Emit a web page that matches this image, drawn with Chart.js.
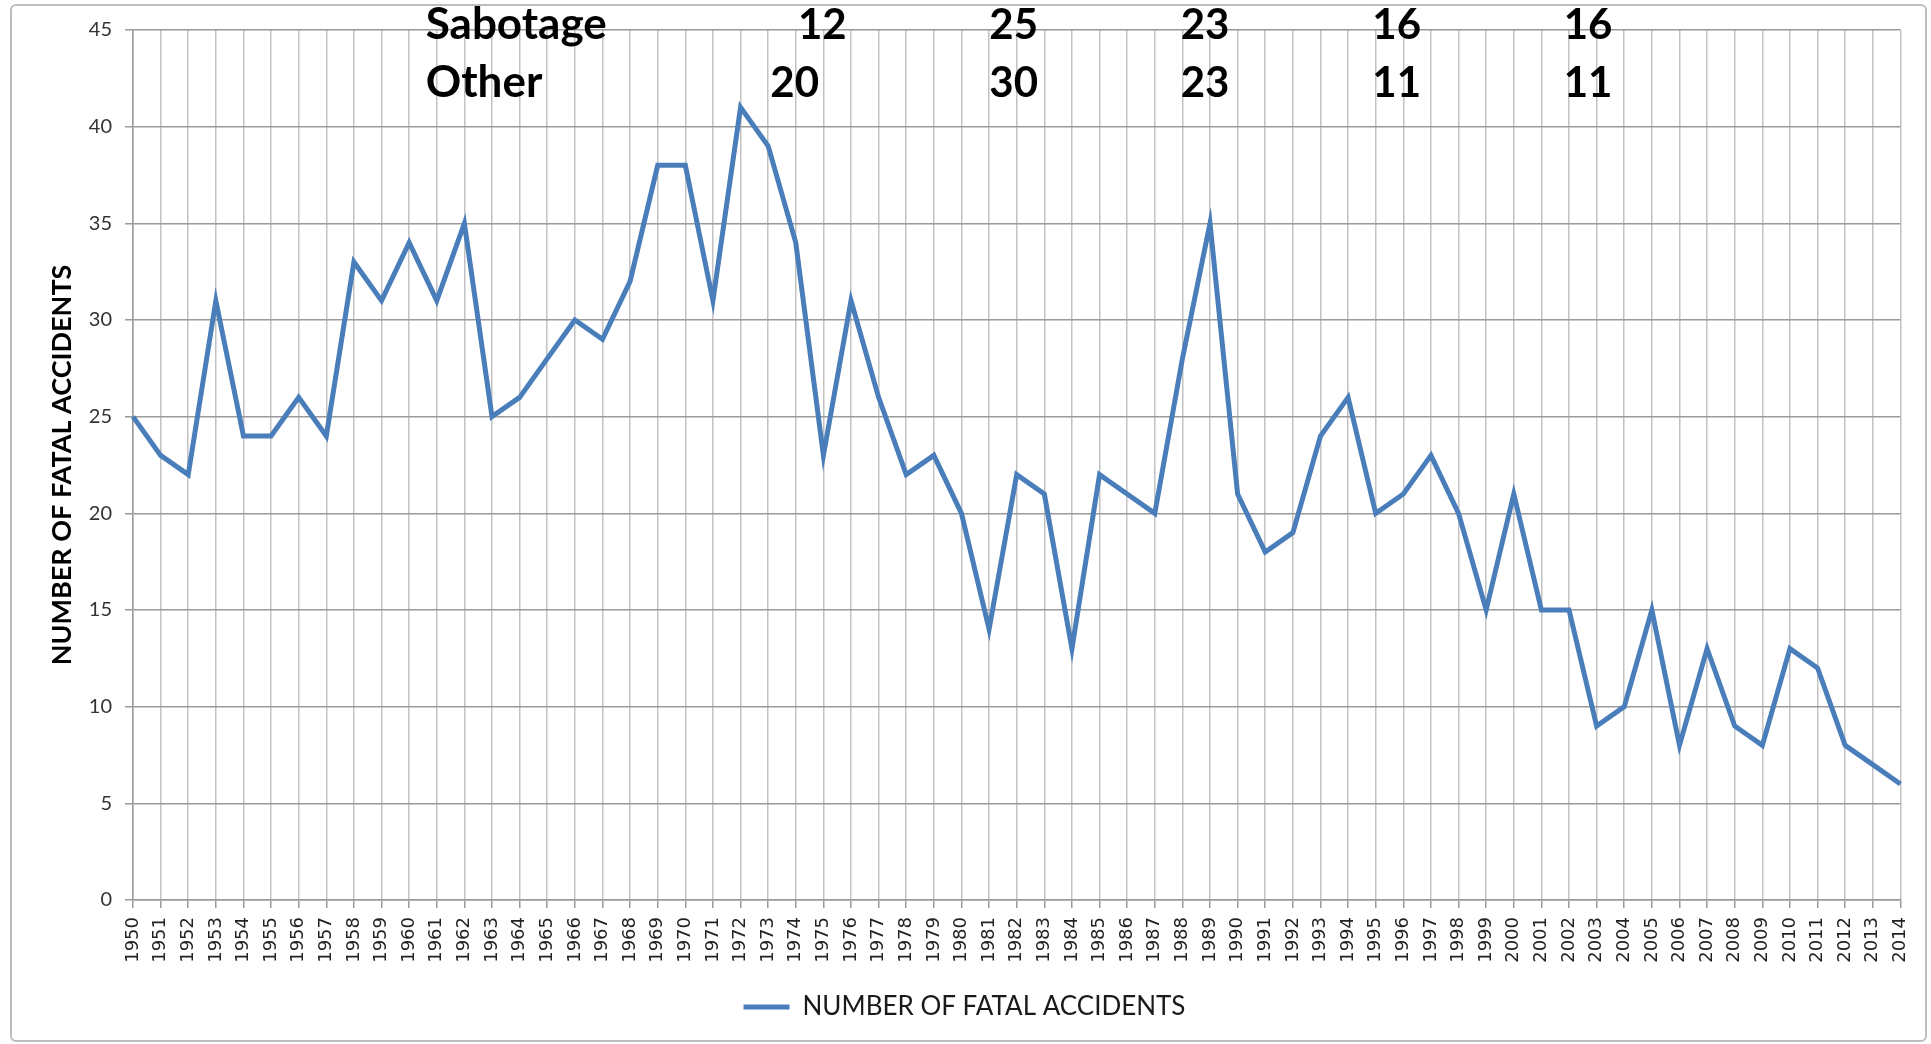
<!DOCTYPE html>
<html lang="en">
<head>
    <meta charset="UTF-8">
    <title>Number of fatal accidents</title>
    <script src="https://cdn.jsdelivr.net/npm/chart.js"></script>
</head>
<style>
    html, body {
        margin: 0;
        padding: 0;
        background: white;
    }
    .frame {
        position: absolute;
        left: 10px;
        top: 4px;
        width: 1913px;
        height: 1034px;
        border: 2px solid #bdbdbd;
        border-radius: 6px;
    }
    .chart-box {
        position: absolute;
        left: 0;
        top: 0;
        width: 1931px;
        height: 1044px;
    }
</style>
<body>
    <div class="frame"></div>
    <div class="chart-box">
        <canvas id="lineChart" width="1931" height="1044"></canvas>
    </div>
    <script>
        // years on the x axis
        const years = [];
        for (let y = 1950; y <= 2014; y++) years.push(String(y));

        // fatal accidents per year
        const fatalAccidents = [
            25, 23, 22, 31, 24, 24, 26, 24, 33, 31,
            34, 31, 35, 25, 26, 28, 30, 29, 32, 38,
            38, 31, 41, 39, 34, 23, 31, 26, 22, 23,
            20, 14, 22, 21, 13, 22, 21, 20, 28, 35,
            21, 18, 19, 24, 26, 20, 21, 23, 20, 15,
            21, 15, 15, 9, 10, 15, 8, 13, 9, 8,
            13, 12, 8, 7, 6
        ];

        // the two rows of numbers written over the top of the chart
        const rowNames = ["Sabotage", "Other"];
        const sabotageCounts = [12, 25, 23, 16, 16];
        const otherCounts = [20, 30, 23, 11, 11];

        const yTicks = { min: 0, max: 45, step: 5 };

        // where the annotation text sits (category index, can be fractional)
        const rowNameSlot = 10.6;
        const sabotageSlots = [24.96, 31.89, 38.82, 45.76, 52.69];
        const otherSlots = [23.96, 31.89, 38.82, 45.76, 52.69];
        const rowBaselines = [39, 97];

        const annotationPlugin = {
            id: "topNotes",
            afterDraw(chart) {
                const ctx = chart.ctx;
                const xs = chart.scales.x;
                const step = (xs.right - xs.left) / (years.length - 1);
                const px = i => xs.left + i * step;
                ctx.save();
                ctx.fillStyle = "#000";
                ctx.textBaseline = "alphabetic";
                ctx.textAlign = "left";
                ctx.font = "bold 44px Lato";
                rowNames.forEach((name, r) => ctx.fillText(name, px(rowNameSlot), rowBaselines[r]));
                ctx.textAlign = "center";
                ctx.font = "bold 42px Lato";
                sabotageCounts.forEach((v, i) => ctx.fillText(String(v), px(sabotageSlots[i]), rowBaselines[0]));
                otherCounts.forEach((v, i) => ctx.fillText(String(v), px(otherSlots[i]), rowBaselines[1]));
                ctx.restore();
            }
        };

        const ctx = document.getElementById("lineChart").getContext("2d");
        new Chart(ctx, {
            type: "line",
            data: {
                labels: years,
                datasets: [{
                    label: "NUMBER OF FATAL ACCIDENTS",
                    data: fatalAccidents,
                    borderColor: "#4a7ebb",
                    backgroundColor: "#4a7ebb",
                    borderWidth: 5,
                    tension: 0,
                    pointRadius: 0,
                    pointHoverRadius: 0,
                    fill: false
                }]
            },
            options: {
                responsive: false,
                animation: false,
                layout: {
                    // left padding nudges the centred legend to the right
                    padding: { left: 24, right: 26, top: 30, bottom: 14 }
                },
                plugins: {
                    tooltip: { enabled: false },
                    legend: {
                        position: "bottom",
                        labels: {
                            usePointStyle: true,
                            pointStyle: "line",
                            pointStyleWidth: 46,
                            boxHeight: 26,
                            padding: 10,
                            color: "#1a1a1a",
                            font: { family: "Lato", size: 26 }
                        }
                    }
                },
                scales: {
                    x: {
                        offset: false,
                        afterFit: s => { s.height = 84; },
                        grid: {
                            color: "#c2c2c2",
                            lineWidth: 1.5,
                            tickLength: 8,
                            tickColor: "#9a9a9a"
                        },
                        border: { color: "#9a9a9a", width: 1.5 },
                        ticks: {
                            autoSkip: false,
                            minRotation: 90,
                            maxRotation: 90,
                            padding: 9,
                            color: "#222",
                            font: { family: "DejaVu Sans", size: 18 }
                        }
                    },
                    y: {
                        min: yTicks.min,
                        max: yTicks.max,
                        afterFit: s => { s.width = 109; },
                        grid: {
                            color: "#9a9a9a",
                            lineWidth: 1.5,
                            tickLength: 8,
                            tickColor: "#9a9a9a"
                        },
                        border: { color: "#9a9a9a", width: 1.5 },
                        ticks: {
                            stepSize: yTicks.step,
                            padding: 13,
                            color: "#333",
                            font: { family: "Lato", size: 20 }
                        },
                        title: {
                            display: true,
                            text: "NUMBER OF FATAL ACCIDENTS",
                            color: "#000",
                            padding: { top: 22, bottom: 0 },
                            font: { family: "Lato", size: 27, weight: "bold" }
                        }
                    }
                }
            },
            plugins: [annotationPlugin]
        });
    </script>
</body>
</html>
